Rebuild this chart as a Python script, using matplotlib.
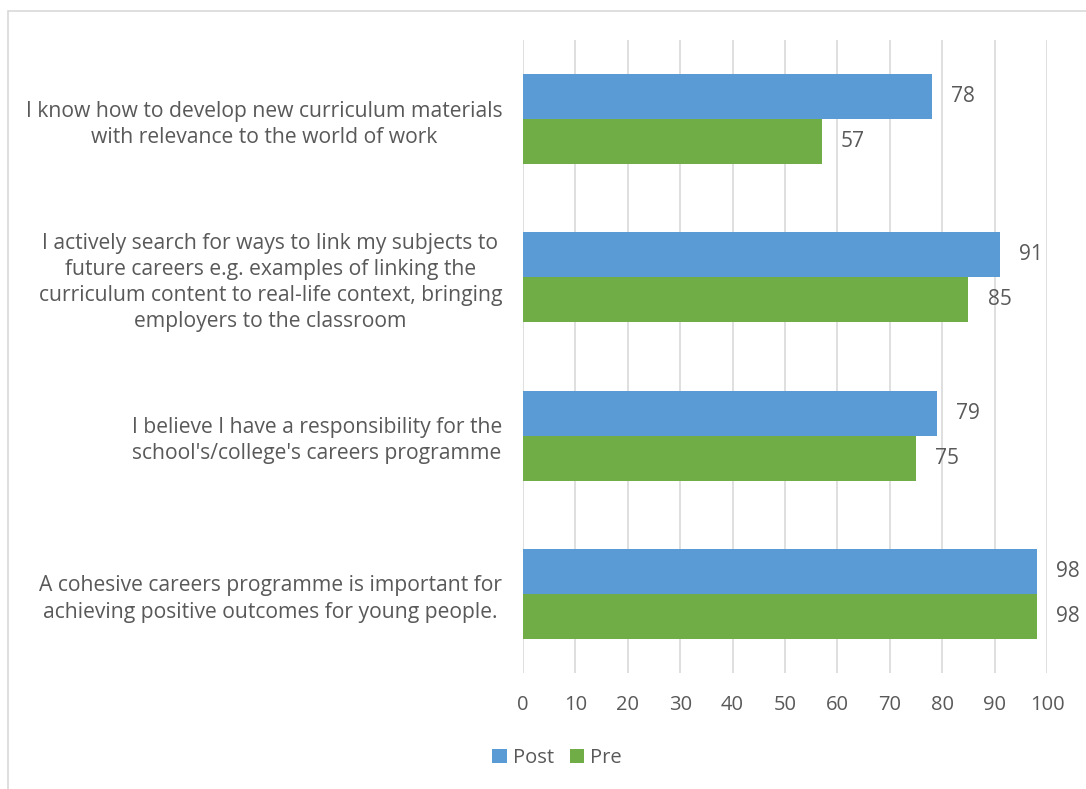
import matplotlib
matplotlib.use('Agg')
import matplotlib.pyplot as plt
import numpy as np
from matplotlib.patches import Rectangle

plt.rcParams['font.family'] = ['Open Sans', 'DejaVu Sans']

categories = [
    "I know how to develop new curriculum materials\nwith relevance to the world of work",
    "I actively search for ways to link my subjects to\nfuture careers e.g. examples of linking the\n"
    "curriculum content to real-life context, bringing\nemployers to the classroom",
    "I believe I have a responsibility for the\nschool's/college's careers programme",
    "A cohesive careers programme is important for\nachieving positive outcomes for young people.",
]
post = [78, 91, 79, 98]
pre = [57, 85, 75, 98]
xticks = list(range(0, 101, 10))

blue = '#5B9BD5'
green = '#70AD47'
txt = '#595959'

fig = plt.figure(figsize=(10.86, 7.89), dpi=100)
# outer chart border (cut off at right/bottom like the reference)
fig.patches.append(Rectangle((8 / 1086, -0.05), 1.2, 1 - 11 / 789 + 0.05,
                             transform=fig.transFigure, fill=False,
                             edgecolor='#D9D9D9', linewidth=1.2))

ax = fig.add_axes([523 / 1086, 1 - 673 / 789, 524 / 1086, 633 / 789])

y = np.arange(len(categories))
h = 0.285
b1 = ax.barh(y - h / 2, post, height=h, color=blue, label='Post')
b2 = ax.barh(y + h / 2, pre, height=h, color=green, label='Pre')

for bars, vals in ((b1, post), (b2, pre)):
    for bar, v in zip(bars, vals):
        ax.text(v + 3.7, bar.get_y() + bar.get_height() / 2, str(v),
                va='center', ha='left', fontsize=15, color=txt)

ax.set_xlim(0, 100)
ax.set_ylim(len(categories) - 0.5, -0.5)
ax.set_xticks(xticks)
ax.set_xticklabels([str(t) for t in xticks], fontsize=14.5, color=txt)
ax.set_yticks(y)
ax.set_yticklabels(categories, fontsize=15.2, color=txt)
for lab in ax.get_yticklabels():
    lab.set_multialignment('center')
    lab.set_linespacing(1.33)
ax.tick_params(axis='y', length=0, pad=15)
ax.tick_params(axis='x', length=0, pad=16)
ax.grid(axis='x', color='#D9D9D9', linewidth=1.2)
ax.set_axisbelow(True)
for s in ax.spines.values():
    s.set_visible(False)

fig.legend(handles=[b1, b2], labels=['Post', 'Pre'], loc='center',
           bbox_to_anchor=(557 / 1086, 1 - 758 / 789), ncol=2, frameon=False,
           fontsize=14.5, handlelength=0.7, handleheight=0.7, handletextpad=0.3,
           columnspacing=0.8, labelcolor=txt)

fig.savefig('out.png', dpi=100)
